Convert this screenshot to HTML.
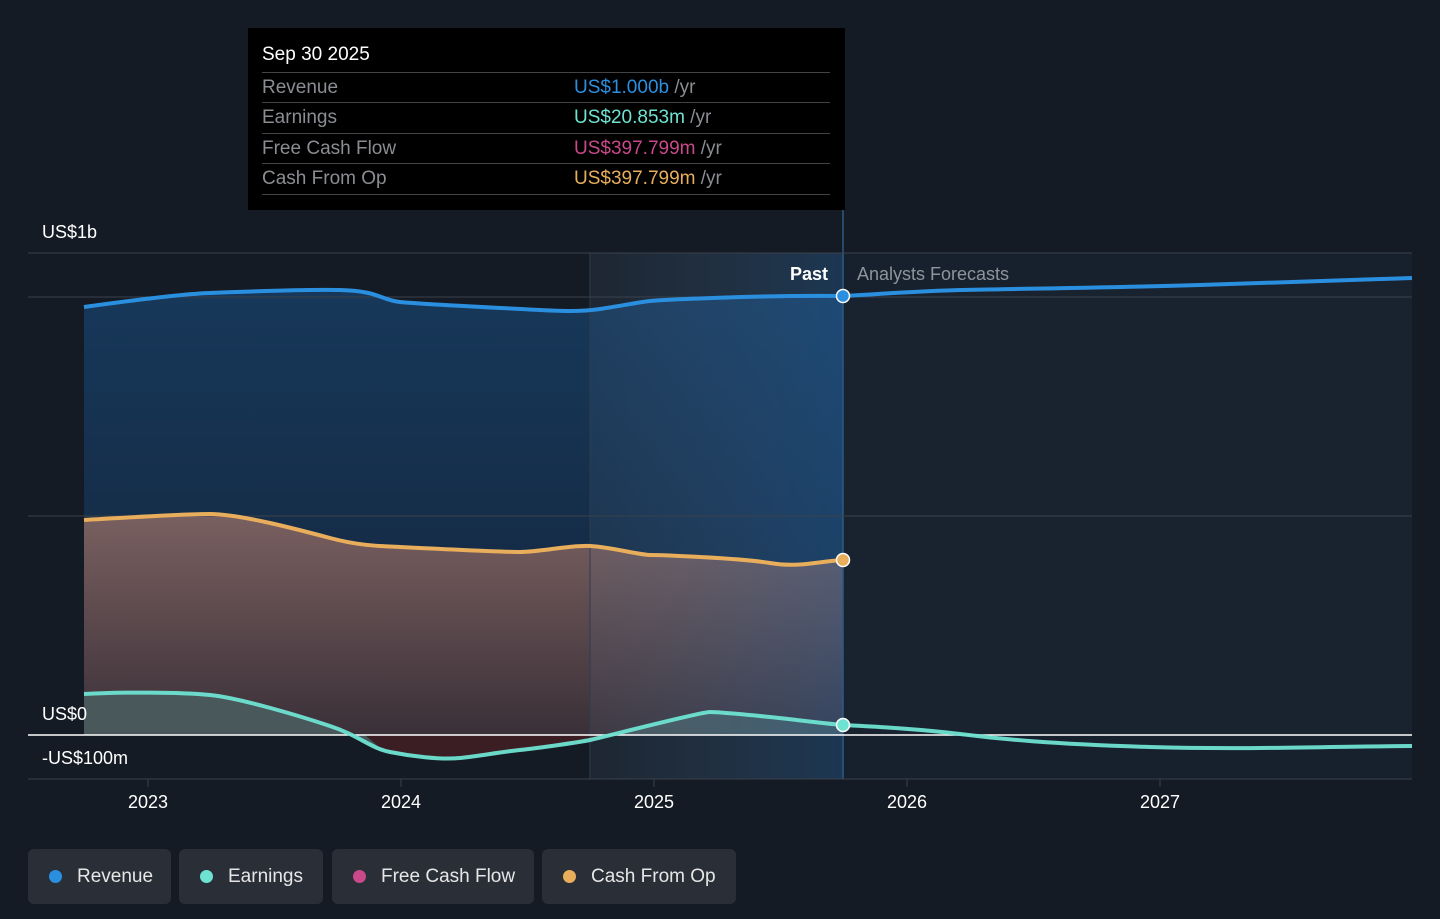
<!DOCTYPE html>
<html><head><meta charset="utf-8"><style>
body{margin:0;width:1440px;height:919px;background:#151b24;overflow:hidden;font-family:"Liberation Sans",sans-serif;}
svg{position:absolute;left:0;top:0}
.lg{position:absolute;top:849px;height:55px;background:#2a2f37;border-radius:6px;color:#e6e6e6;font-size:19px;line-height:55px;box-sizing:border-box;padding-left:49px}
.lg i{position:absolute;left:21px;top:21px;width:13px;height:13px;border-radius:50%}
.tt{position:absolute;left:248px;top:28px;width:597px;height:182px;background:#000}
.tt .h{position:absolute;left:14px;top:16px;color:#fff;font-size:19px}
.tt .r{position:absolute;left:14px;width:568px;height:30px;border-top:1px solid #444;font-size:19px;color:#8a8d92;line-height:29px}
.tt .r span{position:absolute;left:312px}
.tt .r b{font-weight:normal}
</style></head><body>
<svg width="1440" height="919">
<defs>
<linearGradient id="rg" x1="0" y1="0" x2="0" y2="1"><stop offset="0" stop-color="#17385a"/><stop offset="1" stop-color="#13243a"/></linearGradient>
<linearGradient id="cg" x1="0" y1="0" x2="0" y2="1"><stop offset="0" stop-color="#7a6060"/><stop offset="1" stop-color="#3a3038"/></linearGradient>
<linearGradient id="hl" x1="0" y1="0" x2="1" y2="0"><stop offset="0" stop-color="#5a7a9a" stop-opacity="0.12"/><stop offset="1" stop-color="#2a6aa8" stop-opacity="0.35"/></linearGradient>
</defs>
<rect x="843" y="253" width="569" height="526" fill="#17212d"/>
<path d="M84,307 C120,302 180,294 210,293 S300,289 340,290 S380,300 400,302 S520,309 540,310 S580,312 600,309 S640,302 650,301 S760,295 843,296 L843,735 L84,735Z" fill="url(#rg)"/>
<path d="M843,296 C880,294 920,291 960,290 S1100,288 1200,285 S1350,280 1412,278 L1412,735 L843,735Z" fill="#18232f"/>
<path d="M84,520 C120,518 180,514 210,514 S300,530 330,538 S380,546 400,547 S500,552 520,552 S570,545 590,546 S640,555 650,555 S740,558 770,563 S820,561 843,560 L843,735 L84,735Z" fill="url(#cg)"/>
<path d="M84,694 C120,692 180,692 210,695 S300,716 330,726 S370,748 390,752 S440,760 460,758 S500,752 520,750 S580,742 590,740 S700,712 710,712 S750,715 770,717 S820,723 843,725 L843,735 L84,735Z" fill="#4a5c5e" opacity="0.9"/>
<path d="M365,735 C380,748 385,752 390,752 S440,760 460,758 S500,752 520,750 S580,742 590,740 L620,735Z" fill="#3a1e24"/>
<rect x="590" y="253" width="253" height="526" fill="url(#hl)"/>
<line x1="590" y1="253" x2="590" y2="779" stroke="#2c3d4f" stroke-width="1"/>
<line x1="843" y1="210" x2="843" y2="779" stroke="#2c5a85" stroke-width="1.5"/>
<g stroke="#3a414b" stroke-width="1">
<line x1="28" y1="253" x2="1412" y2="253"/><line x1="28" y1="297" x2="1412" y2="297"/><line x1="28" y1="516" x2="1412" y2="516"/><line x1="28" y1="779" x2="1412" y2="779"/>
<line x1="148" y1="779" x2="148" y2="787"/><line x1="401" y1="779" x2="401" y2="787"/><line x1="654" y1="779" x2="654" y2="787"/><line x1="907" y1="779" x2="907" y2="787"/><line x1="1160" y1="779" x2="1160" y2="787"/>
</g>
<line x1="28" y1="735" x2="1412" y2="735" stroke="#fff" stroke-width="1.5"/>
<path d="M84,307 C120,302 180,294 210,293 S300,289 340,290 S380,300 400,302 S520,309 540,310 S580,312 600,309 S640,302 650,301 S760,295 843,296 C880,294 920,291 960,290 S1100,288 1200,285 S1350,280 1412,278" fill="none" stroke="#2b8fe0" stroke-width="4"/>
<path d="M84,520 C120,518 180,514 210,514 S300,530 330,538 S380,546 400,547 S500,552 520,552 S570,545 590,546 S640,555 650,555 S740,558 770,563 S820,561 843,560" fill="none" stroke="#e8ae5c" stroke-width="4"/>
<path d="M84,694 C120,692 180,692 210,695 S300,716 330,726 S370,748 390,752 S440,760 460,758 S500,752 520,750 S580,742 590,740 S700,712 710,712 S750,715 770,717 S820,723 843,725 C880,727 920,729 960,734 S1050,744 1150,747 S1350,746 1412,746" fill="none" stroke="#6fe3d2" stroke-width="4" opacity="0.95"/>
<circle cx="843" cy="296" r="6.5" fill="#2b8fe0" stroke="#fff" stroke-width="1.5"/>
<circle cx="843" cy="560" r="6.5" fill="#e8ae5c" stroke="#fff" stroke-width="1.5"/>
<circle cx="843" cy="725" r="6.5" fill="#6fe3d2" stroke="#fff" stroke-width="1.5"/>
<g font-family="Liberation Sans,sans-serif" font-size="18" fill="#fff">
<text x="42" y="238">US$1b</text><text x="42" y="720">US$0</text><text x="42" y="764">-US$100m</text>
<text x="828" y="280" text-anchor="end" font-weight="bold">Past</text>
<text x="857" y="280" fill="#8e949b">Analysts Forecasts</text>
<g text-anchor="middle"><text x="148" y="808">2023</text><text x="401" y="808">2024</text><text x="654" y="808">2025</text><text x="907" y="808">2026</text><text x="1160" y="808">2027</text></g>
</g>
</svg>
<div class="tt">
<div class="h">Sep 30 2025</div>
<div class="r" style="top:44px">Revenue<span><b style="color:#2b8fe0">US$1.000b</b> /yr</span></div>
<div class="r" style="top:74px">Earnings<span><b style="color:#6fe3d2">US$20.853m</b> /yr</span></div>
<div class="r" style="top:105px">Free Cash Flow<span><b style="color:#c9498a">US$397.799m</b> /yr</span></div>
<div class="r" style="top:135px">Cash From Op<span><b style="color:#e8ae5c">US$397.799m</b> /yr</span></div>
<div class="r" style="top:166px;height:0"></div>
</div>
<div class="lg" style="left:28px;width:143px"><i style="background:#2b8fe0"></i>Revenue</div>
<div class="lg" style="left:179px;width:144px"><i style="background:#6fe3d2"></i>Earnings</div>
<div class="lg" style="left:332px;width:202px"><i style="background:#c9498a"></i>Free Cash Flow</div>
<div class="lg" style="left:542px;width:194px"><i style="background:#e8ae5c"></i>Cash From Op</div>
</body></html>
